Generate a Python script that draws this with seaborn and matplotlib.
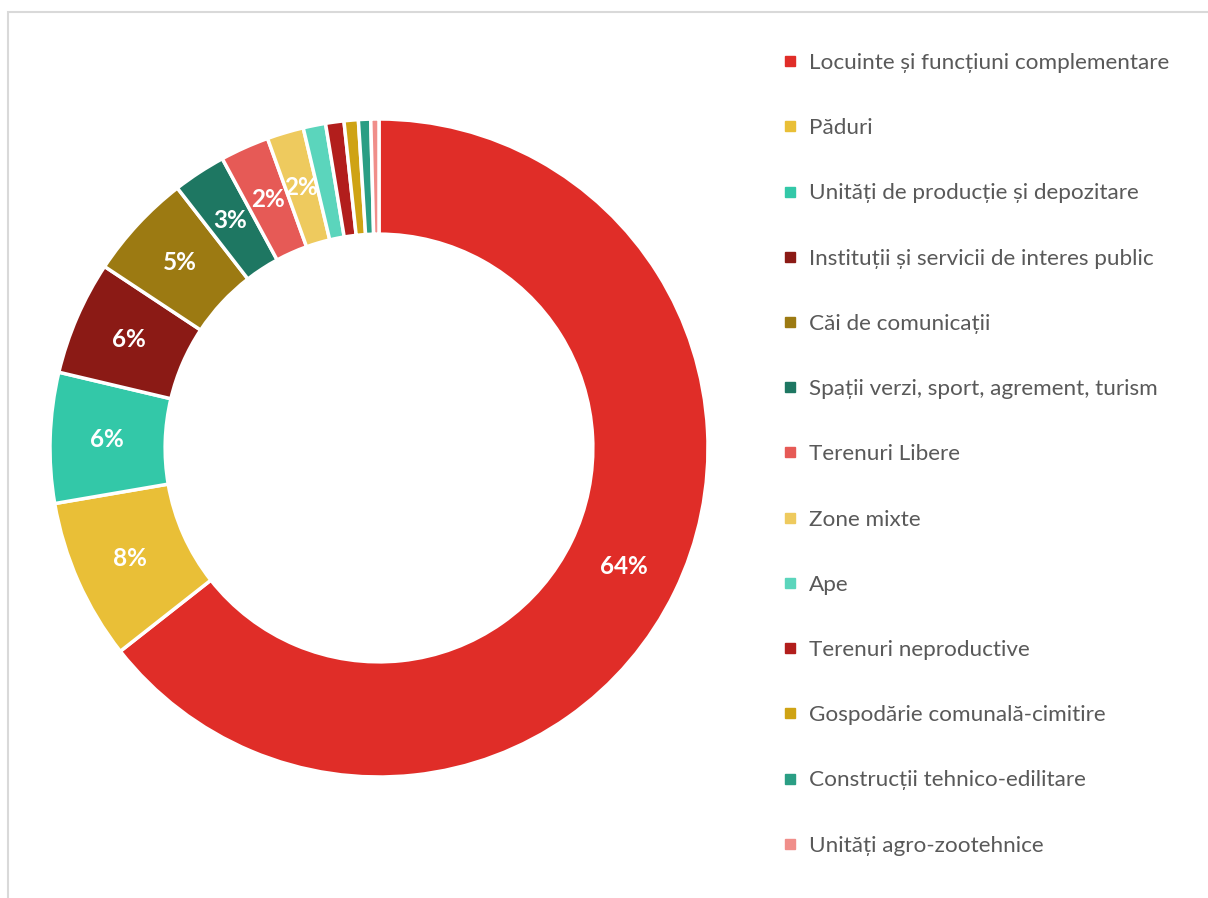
import matplotlib
matplotlib.use("Agg")
import matplotlib.pyplot as plt
from matplotlib.lines import Line2D
from matplotlib.patches import Rectangle
import seaborn as sns

categories = [
    "Locuinte și funcțiuni complementare",
    "Păduri",
    "Unități de producție și depozitare",
    "Instituții și servicii de interes public",
    "Căi de comunicații",
    "Spații verzi, sport, agrement, turism",
    "Terenuri Libere",
    "Zone mixte",
    "Ape",
    "Terenuri neproductive",
    "Gospodărie comunală-cimitire",
    "Construcții tehnico-edilitare",
    "Unități agro-zootehnice",
]
shares = [64.4, 7.9, 6.4, 5.6, 5.2, 2.6, 2.4, 1.8, 1.1, 0.9, 0.7, 0.6, 0.4]
colors = [
    "#E02D28", "#E9BF37", "#33C8A8", "#8B1A15", "#9C7A12", "#1E7762",
    "#E65A56", "#EECA5E", "#5BD5BC", "#B21E1C", "#CFA314", "#2A9E84",
    "#F08E8A",
]

sns.set_theme(style="white")
plt.rcParams["font.family"] = ["Lato", "DejaVu Sans"]
palette = sns.color_palette(colors)

W, H = 1208, 898
fig = plt.figure(figsize=(W / 100, H / 100), dpi=100)
fig.patch.set_facecolor("white")

# chart-area frame (top and left edges visible)
fig.add_artist(Rectangle((8 / W, -0.1), 1.2, (1 - 12 / H) + 0.1,
                         transform=fig.transFigure, fill=False,
                         edgecolor="#D9D9D9", linewidth=1.5))

cx, cy, R = 379, 448, 329
ax = fig.add_axes([(cx - R) / W, (H - cy - R) / H, 2 * R / W, 2 * R / H])


def pct_label(p):
    return f"{p:.0f}%" if p >= 1.5 else ""


wedges, _, autotexts = ax.pie(
    shares,
    colors=palette,
    startangle=90,
    counterclock=False,
    radius=1.0,
    autopct=pct_label,
    pctdistance=0.827,
    wedgeprops=dict(width=0.35, edgecolor="white", linewidth=2.5),
    textprops=dict(color="white", fontsize=17.5, fontweight="bold"),
)
ax.set_xlim(-1, 1)
ax.set_ylim(-1, 1)
ax.set_aspect("equal")
ax.axis("off")

handles = [Line2D([0], [0], marker="s", linestyle="", markersize=7,
                  markerfacecolor=c, markeredgecolor=c) for c in palette]
fig.legend(
    handles, categories,
    loc="upper left",
    bbox_to_anchor=(781 / W, 1 - 53 / H),
    frameon=False,
    fontsize=16.2,
    labelcolor="#595959",
    handlelength=0.8,
    handletextpad=0.45,
    labelspacing=2.01,
    borderaxespad=0,
    borderpad=0,
)

fig.savefig("out.png", dpi=100, facecolor="white")
